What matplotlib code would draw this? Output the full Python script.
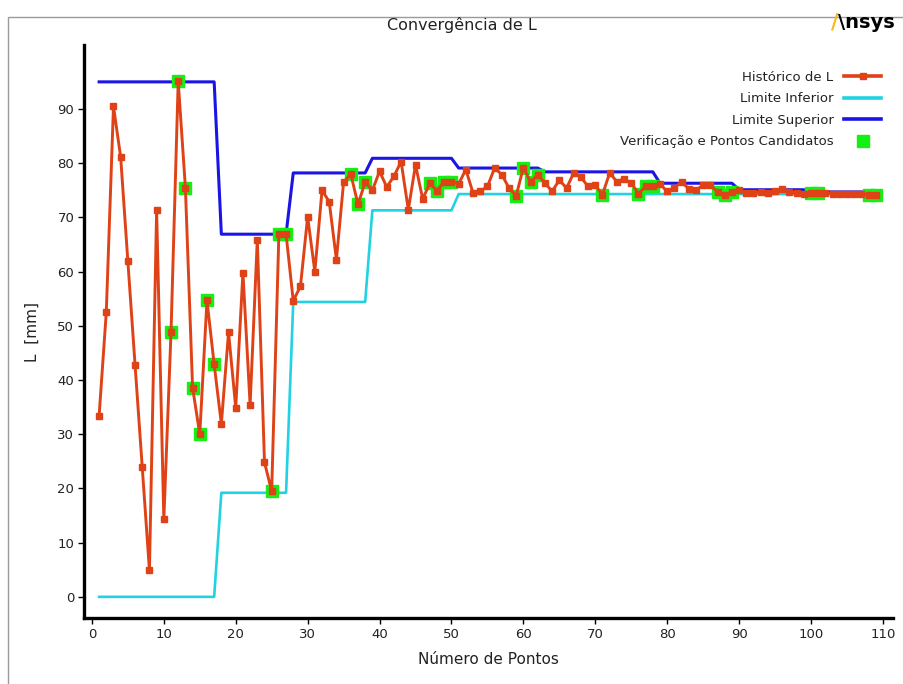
import numpy as np
import matplotlib
matplotlib.use("Agg")
import matplotlib.pyplot as plt
from matplotlib.patches import Rectangle
from matplotlib.lines import Line2D

# Histórico de L (mm) por ponto de projeto
L_hist = [33.4, 52.5, 90.5, 81.1, 61.9, 42.8, 23.9, 4.9, 71.3, 14.3,
          48.8, 95.1, 75.5, 38.6, 30.0, 54.7, 42.9, 31.9, 48.8, 34.9,
          59.8, 35.4, 65.9, 24.8, 19.5, 66.9, 66.9, 54.6, 57.3, 70.1,
          60.0, 75.0, 72.9, 62.2, 76.5, 78.0, 72.4, 76.5, 75.0, 78.5,
          75.6, 77.6, 80.3, 71.4, 79.7, 73.4, 76.3, 74.9, 76.6, 76.6,
          76.2, 78.8, 74.5, 74.8, 75.7, 79.1, 77.9, 75.4, 74.0, 79.2,
          76.5, 77.9, 76.3, 74.8, 76.9, 75.4, 78.2, 77.4, 75.7, 75.9,
          74.2, 78.2, 76.6, 77.1, 76.3, 74.4, 75.7, 75.7, 76.1, 74.8,
          75.5, 76.5, 75.3, 75.1, 75.9, 75.9, 74.7, 74.2, 74.7, 75.1,
          74.5, 74.5, 74.7, 74.5, 74.8, 75.2, 74.7, 74.5, 74.4, 74.5,
          74.5, 74.5, 74.4, 74.3, 74.3, 74.3, 74.3, 74.2, 74.2]

# Pontos de verificação / candidatos (índice do ponto, base 1)
candidate_pts = [11, 12, 13, 14, 15, 16, 17, 25, 26, 27, 36, 37, 38,
                 47, 48, 49, 50, 59, 60, 61, 62, 71, 76, 77, 78,
                 87, 88, 89, 100, 101, 108, 109]

# Limites: níveis e número de pontos em cada nível
upper_levels = [95.0, 66.9, 78.2, 80.9, 79.1, 78.4, 76.3, 75.1, 74.7]
upper_runs = [17, 10, 11, 12, 12, 16, 11, 10, 10]
lower_levels = [0.0, 19.2, 54.4, 71.3, 74.3]
lower_runs = [17, 10, 11, 12, 59]

x_ticks = list(range(0, 111, 10))
y_ticks = list(range(0, 91, 10))

pts = np.arange(1, len(L_hist) + 1)
L_arr = np.array(L_hist)
upper = np.repeat(upper_levels, upper_runs)
lower = np.repeat(lower_levels, lower_runs)
cand = np.array(candidate_pts)

RED = "#DE4216"
BLUE = "#1A14E4"
CYAN = "#22D2E2"
GREEN = "#14F014"

narrow = ["Liberation Sans Narrow", "DejaVu Sans"]

fig = plt.figure(figsize=(9.04, 6.84), dpi=100)
fig.patch.set_facecolor("white")

# moldura cinza
fig.add_artist(Rectangle((8 / 904, -0.01), 1.0, 1 - 17 / 684 + 0.01,
                         transform=fig.transFigure, fill=False,
                         edgecolor="#9a9a9a", linewidth=1.0))

ax = fig.add_axes([84 / 904, 1 - 618 / 684, (893 - 84) / 904, (618 - 45) / 684])
ax.set_facecolor("white")

ax.plot(pts, lower, color=CYAN, lw=1.9, zorder=2)
ax.plot(pts, upper, color=BLUE, lw=2.2, zorder=2)
ax.plot(cand, L_arr[cand - 1], linestyle="none", marker="s", ms=9,
        color=GREEN, mec=GREEN, zorder=3)
ax.plot(pts, L_arr, color=RED, lw=2.1, marker="s", ms=5, mec=RED, zorder=4)

ax.set_xlim(-1.1, 111.4)
ax.set_ylim(-3.9, 101.8)
ax.set_xticks(x_ticks)
ax.set_yticks(y_ticks)
for sp in ("top", "right"):
    ax.spines[sp].set_visible(False)
for sp in ("left", "bottom"):
    ax.spines[sp].set_linewidth(2.4)
    ax.spines[sp].set_color("black")
ax.tick_params(direction="out", length=4, width=1, colors="black",
               labelsize=9.5, pad=3)
for lab in ax.get_xticklabels() + ax.get_yticklabels():
    lab.set_fontfamily(narrow)
    lab.set_color("#222222")

ax.set_xlabel("Número de Pontos", fontsize=11, labelpad=8, color="#222222")
ax.set_ylabel("L  [mm]", fontsize=11, color="#222222")
ax.yaxis.set_label_coords(-0.055, 0.5)

fig.text(462 / 904, 1 - 25 / 684, "Convergência de L", ha="center", va="center",
         fontsize=11.5, color="#222222")

# logotipo
fig.text(831 / 904, 1 - 22 / 684, "/", ha="left", va="center", fontsize=15,
         fontweight="bold", color="#FFB71B")
fig.text(838 / 904, 1 - 22 / 684, "\\nsys", ha="left", va="center", fontsize=14,
         fontweight="bold", color="black")

handles = [
    Line2D([], [], color=RED, lw=2.6, marker="s", ms=5, mec=RED),
    Line2D([], [], color=CYAN, lw=2.6),
    Line2D([], [], color=BLUE, lw=2.6),
    Line2D([], [], linestyle="none", marker="s", ms=8, color=GREEN, mec=GREEN),
]
labels = ["Histórico de L", "Limite Inferior", "Limite Superior",
          "Verificação e Pontos Candidatos"]
leg = ax.legend(handles, labels, loc="upper right", bbox_to_anchor=(1.0, 0.976),
                frameon=False, markerfirst=False, fontsize=9.5,
                handlelength=2.8, labelspacing=0.65, handletextpad=0.8)
for t in leg.get_texts():
    t.set_color("#222222")

fig.savefig("out.png", dpi=100, facecolor="white")
